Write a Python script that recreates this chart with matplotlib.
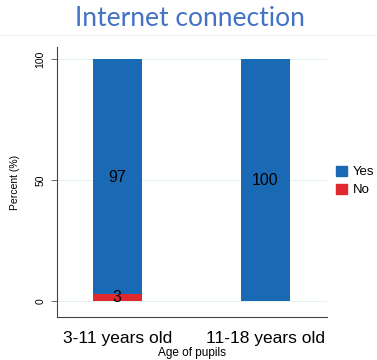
import numpy as np
import matplotlib
matplotlib.use("Agg")
import matplotlib.pyplot as plt
from matplotlib.patches import Patch

groups = ["3-11 years old", "11-18 years old"]
yes_pct = [97, 100]
no_pct = [3, 0]
yes_labels = ["97", "100"]
no_labels = ["3", ""]

blue = "#1a69b4"
red = "#e0282e"

plt.rcParams["font.family"] = ["Liberation Sans", "DejaVu Sans"]

fig = plt.figure(figsize=(3.77, 3.6), dpi=100)
ax = fig.add_axes([0.150, 0.1194, 0.717, 0.7498])

x = np.arange(len(groups))
w = 0.33
ax.bar(x, no_pct, width=w, color=red, zorder=2)
ax.bar(x, yes_pct, width=w, bottom=no_pct, color=blue, zorder=2)

# value labels in the middle of each segment (Stata-ish placement)
for i in range(len(groups)):
    ax.text(x[i], 51 if no_pct[i] else 50, yes_labels[i], ha="center", va="center",
            fontsize=11.5, color="black", zorder=3)
    if no_labels[i]:
        ax.text(x[i], no_pct[i] / 2, no_labels[i], ha="center", va="center",
                fontsize=11.5, color="black", zorder=3)

ax.set_xlim(-0.41, 1.415)
ax.set_ylim(-6.6, 105)
ax.set_yticks([0, 50, 100])
ax.set_yticklabels(["0", "50", "100"], rotation=90, va="center", fontsize=7.5)
ax.set_xticks(x)
ax.set_xticklabels(groups, fontsize=12.5)
ax.tick_params(axis="x", length=0, pad=10)
ax.tick_params(axis="y", length=4, width=0.6, color="#555555", pad=4)
ax.grid(axis="y", color="#e6f0f1", linewidth=0.8, zorder=0)
for s in ["top", "right"]:
    ax.spines[s].set_visible(False)
for s in ["left", "bottom"]:
    ax.spines[s].set_color("#444444")
    ax.spines[s].set_linewidth(0.8)

ax.set_ylabel("Percent (%)", fontsize=7.5, labelpad=11)
ax.set_xlabel("Age of pupils", fontsize=8.5, labelpad=1)

handles = [Patch(color=blue, label="Yes"), Patch(color=red, label="No")]
fig.legend(handles=handles, loc="center left", bbox_to_anchor=(0.86, 0.497),
           frameon=False, fontsize=9.5, handlelength=0.8, handleheight=0.8,
           handletextpad=0.5, labelspacing=0.4)

fig.text(0.505, 0.948, "Internet connection", ha="center", va="center",
         fontsize=19, color="#4472c4", family="Lato")
fig.add_artist(plt.Line2D([0, 1], [0.902, 0.902], color="#f2f2f2", linewidth=0.8))

fig.savefig("out.png", dpi=100)
